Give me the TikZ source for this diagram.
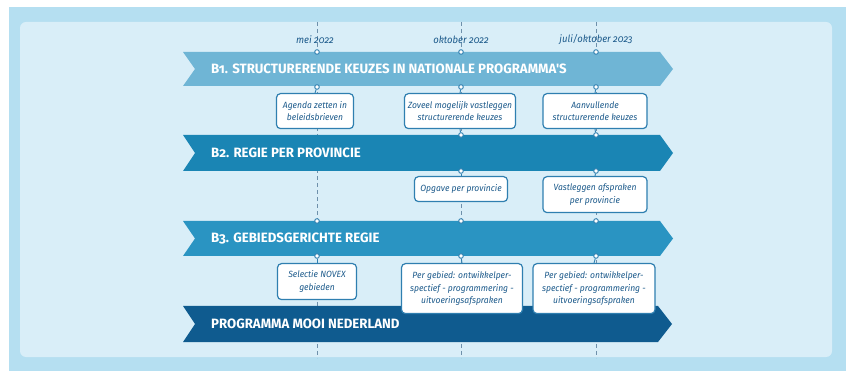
\documentclass[tikz,border=0pt]{standalone}
\usepackage{fontspec}
\usepackage{tikz}
\usetikzlibrary{positioning}
\newfontfamily\bandfont[FakeStretch=0.98,Numbers=OldStyle]{Fira Sans}
\newfontfamily\boxfont[FakeStretch=0.95,Numbers=OldStyle]{Fira Sans}
\definecolor{outerblue}{HTML}{B5DFF1}
\definecolor{innerblue}{HTML}{D9EEF8}
\definecolor{bandone}{HTML}{6FB5D5}
\definecolor{bandtwo}{HTML}{1A85B4}
\definecolor{bandthree}{HTML}{2A94C2}
\definecolor{bandfour}{HTML}{0F5B8F}
\definecolor{boxline}{HTML}{2F7FB0}
\definecolor{boxtext}{HTML}{1C5A8B}
\definecolor{timegray}{HTML}{6E90AB}
\tikzset{timeline/.style={draw=timegray, line width=0.8pt, dash pattern=on 4pt off 3pt},
bandtext/.style={anchor=west, inner sep=0pt, text=white, font=\bandfont\bfseries\fontsize{13.5}{16}\selectfont},
datelabel/.style={inner sep=0pt, text=boxtext, font=\boxfont\itshape\fontsize{10}{12}\selectfont},
stepbox/.style={draw=boxline, fill=white, rounded corners=4pt, line width=1.2pt, align=center, inner sep=2pt, anchor=north, text=boxtext, font=\boxfont\itshape\fontsize{9}{12.5}\selectfont},
dot/.style={circle, draw=boxline, fill=white, line width=0.9pt, minimum size=4.6pt, inner sep=0pt},
link/.style={draw=boxline, line width=0.9pt}}

\begin{document}
\begin{tikzpicture}[x=1pt,y=-1pt]
\useasboundingbox (0,0) rectangle (846,371);

% achtergrond
\fill[white] (0,0) rectangle (846,371);
\fill[outerblue] (9,7) rectangle (846,371);
\fill[innerblue, rounded corners=6pt] (20,22) rectangle (832,357);

% tijdlijnen
\coordinate (maytop) at (317,22);
\coordinate (maybot) at (317,358);
\coordinate (octtop) at (461,22);
\coordinate (octbot) at (461,358);
\coordinate (jultop) at (596,22);
\coordinate (julbot) at (596,358);
\draw[timeline] (maytop) -- (maybot);
\draw[timeline] (octtop) -- (octbot);
\draw[timeline] (jultop) -- (julbot);

\node[datelabel] (dmay) at (315,40) {mei 2022};
\node[datelabel] (doct) at (461,40) {oktober 2022};
\node[datelabel] (djul) at (596,40) {juli/oktober 2023};

% banden
\fill[bandone] (183,52) -- (660,52) -- (673,69) -- (660,86) -- (183,86) -- (195,69) -- cycle;
\node[bandtext] (b1) at (211,69) {B1. STRUCTURERENDE KEUZES IN NATIONALE PROGRAMMA'S};
\fill[bandtwo] (183,135) -- (660,135) -- (673,153) -- (660,171) -- (183,171) -- (195,153) -- cycle;
\node[bandtext] (b2) at (211,153) {B2. REGIE PER PROVINCIE};
\fill[bandthree] (183,221) -- (660,221) -- (673,238.5) -- (660,256) -- (183,256) -- (195,238.5) -- cycle;
\node[bandtext] (b3) at (211,238.5) {B3. GEBIEDSGERICHTE REGIE};
\fill[bandfour] (183,306) -- (658,306) -- (672,324) -- (658,342) -- (183,342) -- (195,324) -- cycle;
\node[bandtext] (pmn) at (211,324) {PROGRAMMA MOOI NEDERLAND};

% knooppunten
\foreach \x in {317,461,596}
  \foreach \y in {52,87,221,256}
    \node[dot] (d\x-\y) at (\x,\y) {};
\foreach \x in {461,596}
  \foreach \y in {135,171}
    \node[dot] (d\x-\y) at (\x,\y) {};

% mijlpalen
\node[stepbox, minimum width=77pt, minimum height=35pt] (a1) at (315,93) {Agenda zetten in\\beleidsbrieven};
\node[stepbox, minimum width=111pt, minimum height=35pt] (a2) at (460,93) {Zoveel mogelijk vastleggen\\structurerende keuzes};
\node[stepbox, minimum width=104pt, minimum height=35pt] (a3) at (595,93) {Aanvullende\\structurerende keuzes};

\node[stepbox, minimum width=93pt, minimum height=25pt] (p2) at (461,176) {Opgave per provincie};
\node[stepbox, minimum width=104pt, minimum height=36pt] (p3) at (595,176) {Vastleggen afspraken\\per provincie};

\node[stepbox, minimum width=79pt, minimum height=36pt] (g1) at (317,263) {Selectie NOVEX\\gebieden};
\node[stepbox, minimum width=121pt, minimum height=50pt] (g2) at (462,263) {Per gebied: ontwikkelper-\\spectief - programmering -\\uitvoeringsafspraken};
\node[stepbox, minimum width=122pt, minimum height=50pt] (g3) at (594,263) {Per gebied: ontwikkelper-\\spectief - programmering -\\uitvoeringsafspraken};

\draw[link] (d317-87) -- (a1.north);
\draw[link] (d461-87) -- (a2.north);
\draw[link] (d596-87) -- (a3.north);
\draw[link] (a2.south) -- (d461-135);
\draw[link] (a3.south) -- (d596-135);
\draw[link] (d461-171) -- (p2.north);
\draw[link] (d596-171) -- (p3.north);
\draw[link] (d317-256) -- (g1.north);
\draw[link] (d461-256) -- (g2.north);
\draw[link] (d596-256) -- (g3.north);

\end{tikzpicture}
\end{document}
